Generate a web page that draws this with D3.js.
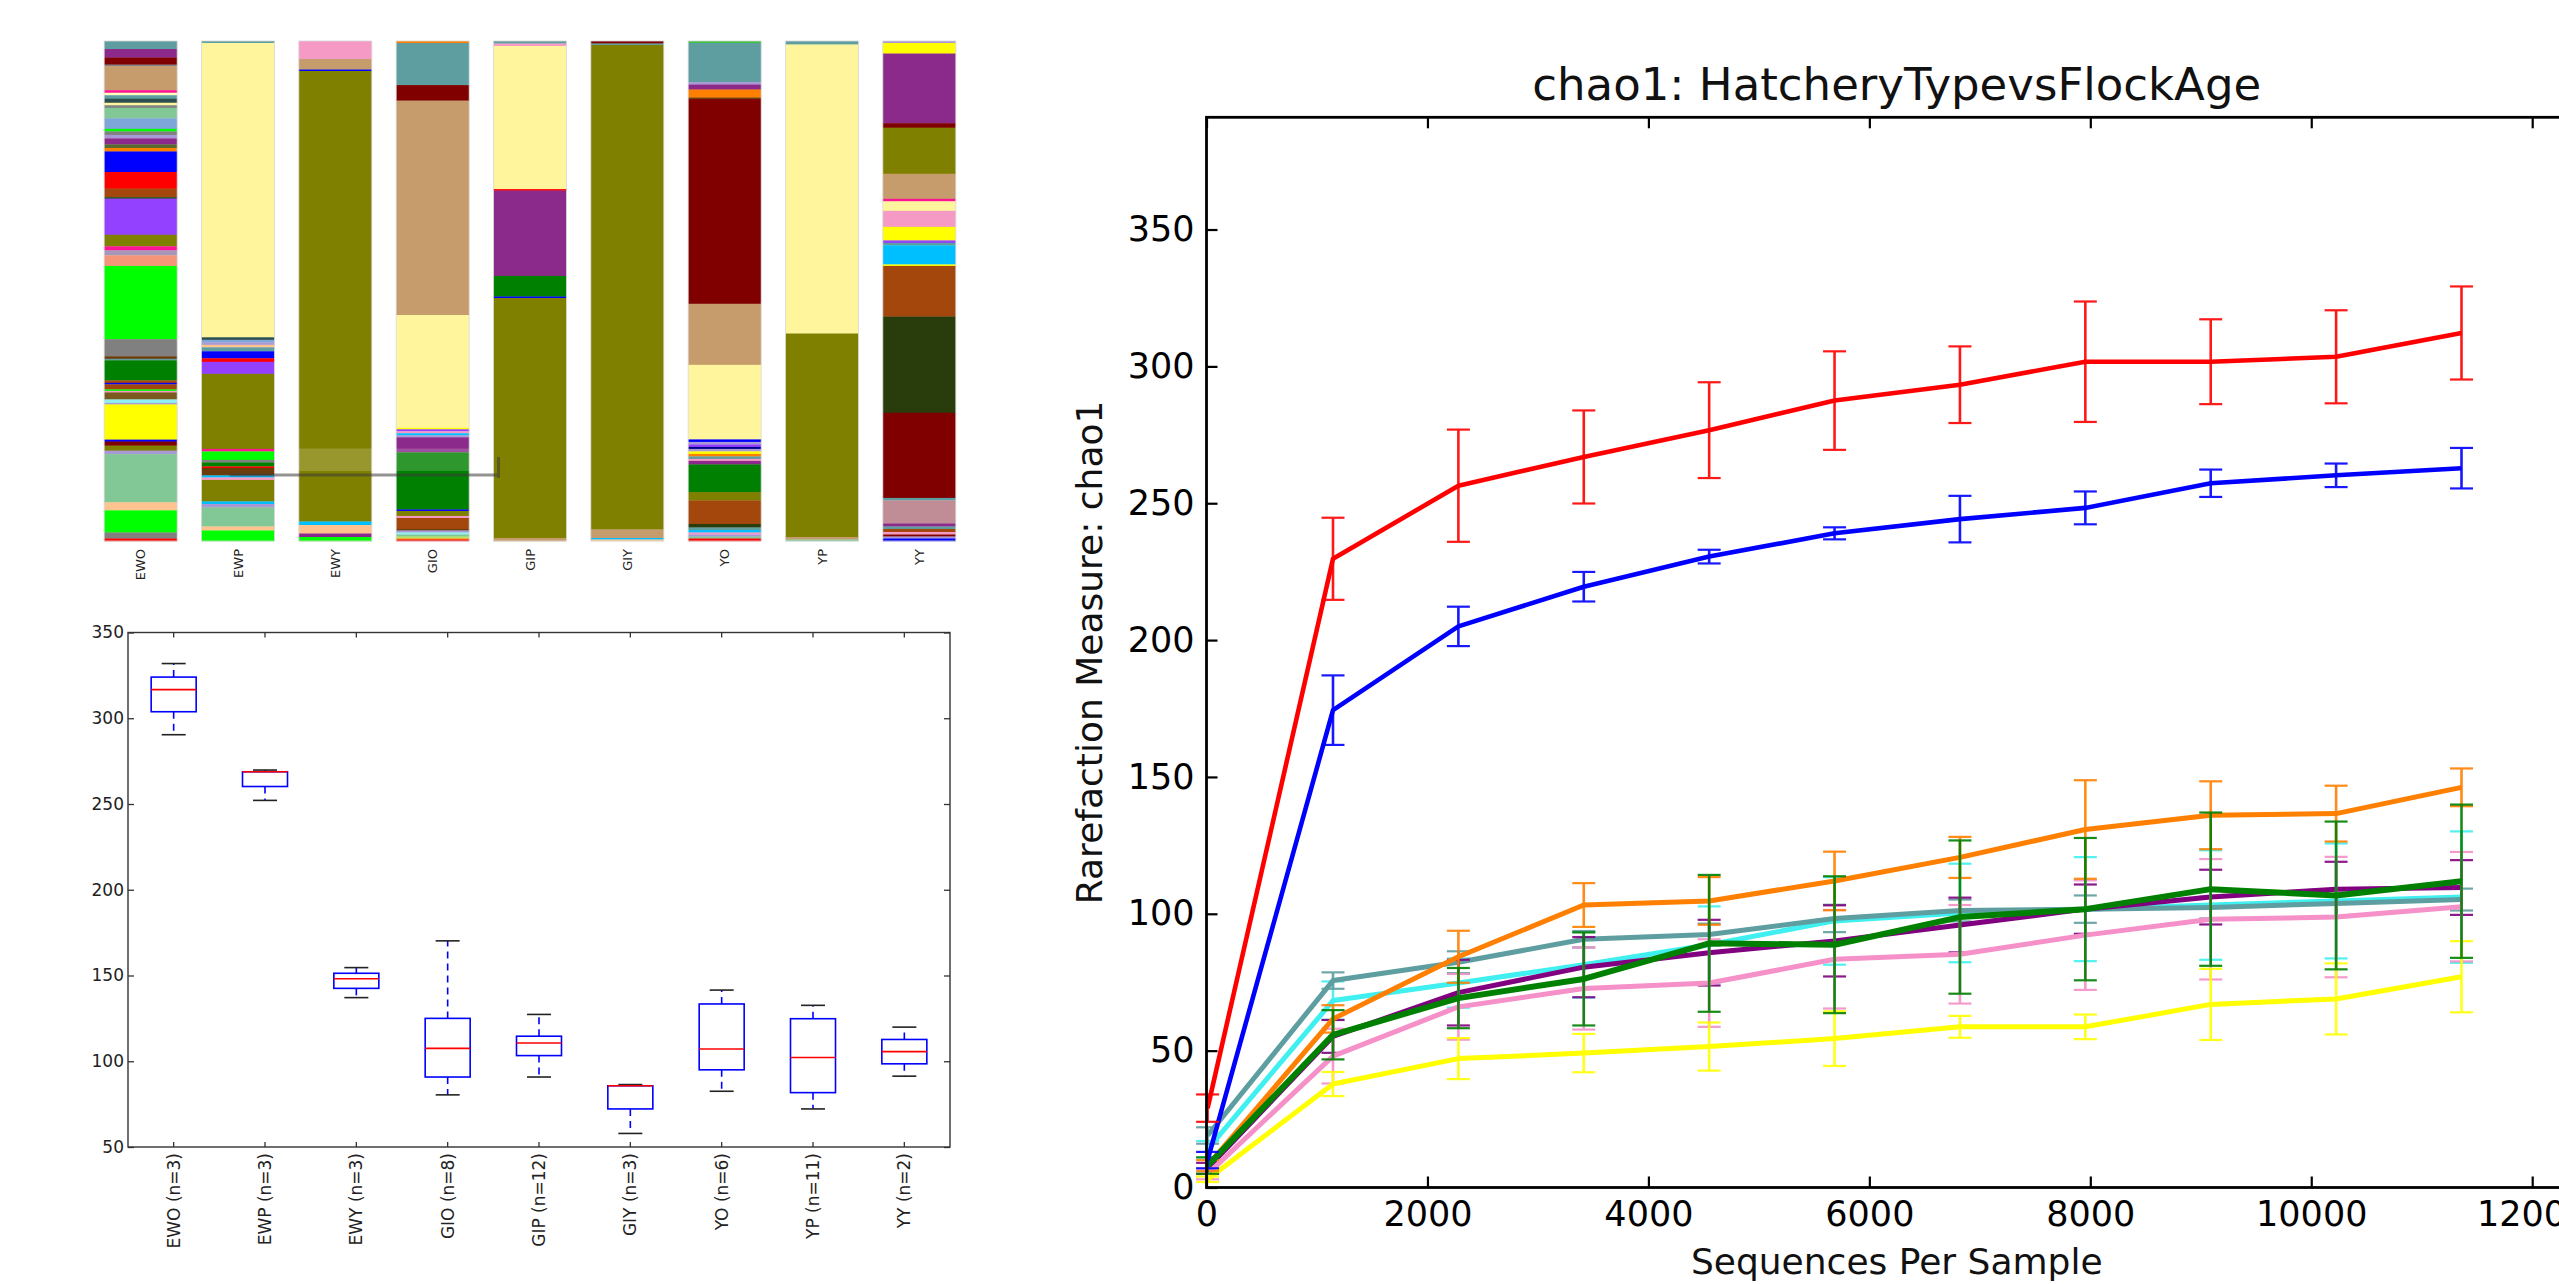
<!DOCTYPE html>
<html>
<head>
<meta charset="utf-8">
<script src="https://cdn.jsdelivr.net/npm/d3@7"></script>
<style>
  body { margin: 0; background: #fff; }
  svg { display: block; font-family: "DejaVu Sans", sans-serif; }
</style>
</head>
<body>
<svg id="vis" width="2559" height="1284"></svg>
<script>
// ---------- data: taxa summary (percent per segment, top to bottom)
var stackSamples = ["EWO", "EWP", "EWY", "GIO", "GIP", "GIY", "YO", "YP", "YY"];

var barEWO = [["teal",1.6],["purple",1.7],["maroon",1.4],["gray",0.3],["tan",4.8],["deeppink",0.5],["lightyellow",0.5],["teal",0.7],["darkslate",0.8],["cream",0.5],["gray",0.5],["seafoam",2.1],["lightblue",2.1],["lime",0.5],["gray",0.7],["lavender",0.7],["purple",1.2],["darkolive",0.7],["orange",0.7],["blue",4.1],["red",3.3],["brown",1.7],["darkgreen",0.3],["violet",7.2],["olive",2.3],["deeppink",0.8],["lavgray",1.0],["salmon",2.1],["lime",14.6],["gray",3.4],["darkbrown",0.5],["teal",0.3],["green",4.0],["brown",0.5],["blue",0.3],["brown",1.0],["lime",0.3],["pink",0.3],["olivebrown",1.4],["lightcyan",0.7],["lavender",0.3],["yellow",7.0],["blue",0.4],["maroon",0.8],["olive",1.0],["lavender",0.7],["seafoam",9.6],["peach",1.6],["lime",4.4],["gray",1.2],["red",0.5]];
var barEWP = [["teal",0.4],["cream",58.8],["darkslate",0.5],["lightblue",0.5],["lavender",0.5],["peach",0.5],["teal",0.8],["blue",1.4],["red",0.7],["violet",2.4],["olive",15.0],["deeppink",0.5],["lime",1.7],["gray",0.5],["green",0.8],["red",0.3],["darkbrown",1.5],["deepsky",0.4],["pink",0.5],["olive",4.3],["deepsky",0.5],["lavender",0.7],["seafoam",3.8],["peach",0.8],["lime",2.1]];
var barEWY = [["pink",3.6],["tan",2.1],["blue",0.3],["olive",90.0],["deepsky",0.7],["peach",1.7],["purple",0.7],["lime",0.8]];
var barGIO = [["orange",0.4],["teal",8.4],["maroon",3.1],["tan",42.8],["cream",22.5],["yellow",0.3],["violet",0.4],["pink",0.4],["deepsky",0.4],["lavender",0.4],["purple",3.0],["green",11.4],["blue",0.3],["olive",1.0],["pink",0.4],["brown",2.2],["darkbrown",0.3],["lavender",0.4],["lightcyan",0.4],["seafoam",0.4],["yellowgreen",0.4],["orange",0.2],["red",0.3]];
var barGIP = [["teal",0.5],["pink",0.5],["cream",28.5],["red",0.3],["purple",17.0],["green",4.1],["blue",0.3],["olive",47.8],["tan",0.6]];
var barGIY = [["maroon",0.5],["teal",0.3],["olive",96.7],["tan",1.7],["deepsky",0.3],["peach",0.3]];
var barYO = [["limegreen",0.4],["teal",7.8],["lavender",0.5],["purple",1.0],["orange",1.6],["darkbrown",0.3],["maroon",40.9],["tan",12.2],["cream",14.9],["blue",0.5],["lavender",0.5],["violet",0.5],["darkblue",0.4],["lavender",0.5],["yellow",0.5],["orange",0.5],["teal",0.5],["pink",0.4],["purple",0.7],["green",5.5],["olive",1.7],["brown",4.7],["darkolivegreen",0.7],["teal",0.5],["deepsky",0.5],["pink",0.4],["lavender",0.4],["seafoam",0.4],["red",0.5]];
var barYP = [["teal",0.7],["cream",57.8],["olive",40.7],["tan",0.5],["seafoam",0.3]];
var barYY = [["lavender",0.4],["yellow",2.1],["purple",13.9],["maroon",0.9],["olive",9.2],["tan",5.0],["deeppink",0.5],["cream",1.9],["pink",3.2],["yellow",2.7],["violet",0.5],["teal",0.5],["deepsky",3.8],["yellow",0.3],["brown",10.1],["darkolivegreen",19.2],["maroon",17.0],["teal",0.5],["rosybrown",4.6],["purple",0.6],["teal",0.5],["brown",0.6],["pink",0.5],["maroon",0.4],["lavender",0.4],["blue",0.5]];

// ---------- data: alpha diversity boxes
var boxGroups = ["EWO (n=3)", "EWP (n=3)", "EWY (n=3)", "GIO (n=8)", "GIP (n=12)", "GIY (n=3)", "YO (n=6)", "YP (n=11)", "YY (n=2)"];
var boxLow    = [290.4, 252.1, 137.1,  80.4,  90.8, 57.9,  82.5,  72.2,  91.3];
var boxQ1     = [303.8, 260.2, 142.5,  90.8, 103.3, 72.2,  95.0,  81.7,  98.5];
var boxMedian = [316.7, 268.8, 148.1, 107.5, 110.6, 85.7, 107.1, 102.2, 105.6];
var boxQ3     = [324.0, 268.8, 151.3, 125.0, 114.6, 85.7, 133.4, 124.8, 112.7];
var boxHigh   = [331.9, 269.8, 154.6, 170.2, 127.3, 86.4, 141.5, 132.6, 119.9];
var boxTicks  = [50, 100, 150, 200, 250, 300, 350];

// ---------- data: rarefaction chao1
var depths = [10, 1145, 2280, 3415, 4550, 5685, 6820, 7955, 9090, 10225, 11360];
var chaoEWO = [29, 229.7, 256.4, 266.9, 276.7, 287.5, 293.3, 301.7, 301.7, 303.5, 312.2];
var errEWO  = [5, 15, 20.5, 17, 17.5, 18, 14, 22, 15.5, 17, 17];
var chaoEWP = [10, 174.4, 205, 219.5, 230.5, 239, 244.2, 248.3, 257.3, 260.2, 262.8];
var errEWP  = [3, 12.7, 7.2, 5.4, 2.5, 2.2, 8.5, 6, 5, 4.3, 7.4];
var chaoEWY = [8, 61.6, 84.3, 103.2, 104.7, 112, 120.6, 130.8, 136, 136.6, 146.2];
var errEWY  = [2, 5, 9.5, 8, 8.7, 10.7, 7.5, 18, 12.4, 10.2, 6.9];
var chaoGIO = [8, 55.8, 69.2, 76.2, 89.2, 88.7, 98.8, 101.7, 109, 106.7, 111.9];
var errGIO  = [3, 9, 11, 17, 25, 25, 28, 26, 28, 27, 28];
var chaoGIP = [7, 55.2, 71.2, 80.5, 85.8, 90.1, 95.9, 101.7, 106.1, 109, 109.6];
var errGIP  = [2, 6, 12, 11, 12, 13, 10, 9, 10, 10, 10];
var chaoGIY = [3, 37.8, 47.1, 49.1, 51.5, 54.4, 58.7, 58.7, 66.9, 68.9, 77];
var errGIY  = [1, 4.4, 7.5, 7, 8.8, 10, 4, 4.5, 13, 13, 13];
var chaoYO  = [14, 68.3, 74.7, 81.4, 88.7, 97.4, 100.3, 101.7, 103.2, 104.7, 106.1];
var errYO   = [3, 7, 9, 12, 14, 16, 18, 19, 20, 21, 24];
var chaoYP  = [5, 48, 66, 72.7, 74.7, 83.4, 85.2, 92.2, 98, 98.8, 102.6];
var errYP   = [2, 10, 12, 15, 16, 18, 18, 20, 22, 22, 20];
var chaoYY  = [19, 75.6, 82.3, 90.7, 92.4, 98.3, 101.2, 101.7, 102.3, 103.8, 105.2];
var errYY   = [3, 3, 4, 3, 4, 5, 4, 5, 4, 5, 4];
var rareXTicks = [0, 2000, 4000, 6000, 8000, 10000, 12000];
var rareYTicks = [0, 50, 100, 150, 200, 250, 300, 350];

// colours
var taxonColors = {
  teal: "#5f9ea0", purple: "#8b2a8b", maroon: "#800000", gray: "#808080", tan: "#c69c6d",
  deeppink: "#ff1493", lightyellow: "#ffffc0", darkslate: "#2f4f4f", cream: "#fff59d",
  seafoam: "#82c896", lightblue: "#7ea6d9", lime: "#00ff00", lavender: "#a899d6",
  darkolive: "#556b2f", orange: "#ff7f00", blue: "#0000ff", red: "#ff0000", brown: "#a3470d",
  darkgreen: "#1e4d1e", violet: "#9441ff", olive: "#808000", lavgray: "#a797b8",
  salmon: "#f49479", darkbrown: "#6b3c0c", green: "#008000", pink: "#f49ac4",
  olivebrown: "#7a5a1e", lightcyan: "#8ef0f0", yellow: "#ffff00", peach: "#ffc38f",
  deepsky: "#00bfff", rosybrown: "#c08c96", darkolivegreen: "#283c0c", yellowgreen: "#b8e060",
  limegreen: "#40c040", darkblue: "#00008b"
};

var svg = d3.select("#vis");

// ================= taxa summary bars =================
var barSegments = { EWO: barEWO, EWP: barEWP, EWY: barEWY, GIO: barGIO, GIP: barGIP,
                    GIY: barGIY, YO: barYO, YP: barYP, YY: barYY };

var xb = d3.scaleBand().domain(stackSamples).range([92, 968])
    .paddingInner(0.25).paddingOuter(0.125);
var yb = d3.scaleLinear().domain([0, 100]).range([41, 541]);

var bars = svg.append("g");
stackSamples.forEach(function(s) {
  var segs = barSegments[s];
  var total = d3.sum(segs, function(d) { return d[1]; });
  var ends = d3.cumsum(segs, function(d) { return d[1] / total * 100; });
  bars.selectAll(null)
    .data(segs)
    .enter()
    .append("rect")
      .attr("x", xb(s))
      .attr("width", xb.bandwidth())
      .attr("y", function(d, i) { return yb(ends[i] - d[1] / total * 100); })
      .attr("height", function(d) { return yb(d[1] / total * 100) - yb(0) + 0.3; })
      .attr("fill", function(d) { return taxonColors[d[0]]; });
});

// faint outline round each bar
bars.selectAll("outline")
  .data(stackSamples)
  .enter()
  .append("rect")
    .attr("x", function(d) { return xb(d); })
    .attr("y", yb(0))
    .attr("width", xb.bandwidth())
    .attr("height", yb(100) - yb(0))
    .attr("fill", "none")
    .attr("stroke", "#d8d8d8")
    .attr("stroke-width", 0.8);

// leftover hover line from the original screenshot
svg.append("rect")
  .attr("x", xb("EWY") - 20).attr("y", yb(81.5))
  .attr("width", xb("GIP") - xb("EWY") + 10).attr("height", yb(86) - yb(81.5))
  .attr("fill", "#ffffff").attr("opacity", 0.18);
svg.append("path")
  .attr("d", "M" + (xb("EWP") + 28) + "," + yb(86.8) + "H" + (xb("GIP") + 5) +
             "M" + (xb("GIP") + 5) + "," + yb(83.2) + "V" + yb(87.4))
  .attr("fill", "none")
  .attr("stroke", "#3a3a3a")
  .attr("stroke-opacity", 0.55)
  .attr("stroke-width", 3);

svg.append("g").selectAll("text")
  .data(stackSamples)
  .enter()
  .append("text")
    .attr("transform", function(d) {
      return "translate(" + (xb(d) + xb.bandwidth() / 2) + "," + 549 + ") rotate(-90)";
    })
    .attr("dy", "0.35em")
    .attr("text-anchor", "end")
    .style("font-size", "13px")
    .attr("fill", "#222")
    .text(function(d) { return d; });

// ================= box plot =================
var bx = d3.scaleBand().domain(boxGroups).range([128, 950]);
var by = d3.scaleLinear().domain([50, 350]).range([1147, 632.5]);
var bc = function(g) { return bx(g) + bx.bandwidth() / 2; };

var boxG = svg.append("g");
boxG.append("g")
  .attr("transform", "translate(" + 128 + ",0)")
  .call(d3.axisLeft(by).tickValues(boxTicks).tickSizeInner(-6).tickSizeOuter(0).tickPadding(4))
  .call(function(g) { g.select(".domain").remove(); });
boxG.append("g")
  .attr("transform", "translate(" + 950 + ",0)")
  .call(d3.axisRight(by).tickValues(boxTicks).tickSizeInner(-6).tickSizeOuter(0).tickFormat(""))
  .call(function(g) { g.select(".domain").remove(); });
boxG.append("g")
  .attr("transform", "translate(0," + 632.5 + ")")
  .call(d3.axisTop(bx).tickSizeInner(-5).tickSizeOuter(0).tickFormat(""))
  .call(function(g) { g.select(".domain").remove(); });
boxG.append("g")
  .attr("transform", "translate(0," + 1147 + ")")
  .call(d3.axisBottom(bx).tickSizeInner(-5).tickSizeOuter(0).tickFormat(""))
  .call(function(g) { g.select(".domain").remove(); });
boxG.selectAll(".tick line").attr("stroke", "#333").attr("stroke-width", 1.3);
boxG.selectAll(".tick text").style("font-size", "17px").attr("fill", "#222")
  .style("font-family", "DejaVu Sans, sans-serif");

boxG.append("rect")
  .attr("x", 128).attr("y", 632.5).attr("width", 950 - 128).attr("height", 1147 - 632.5)
  .attr("fill", "none").attr("stroke", "#333").attr("stroke-width", 1.4);

boxG.selectAll("xlab")
  .data(boxGroups)
  .enter()
  .append("text")
    .attr("transform", function(d) { return "translate(" + bc(d) + "," + 1153 + ") rotate(-90)"; })
    .attr("dy", "0.35em")
    .attr("text-anchor", "end")
    .style("font-size", "17px")
    .attr("fill", "#222")
    .text(function(d) { return d; });

var boxHalf = 22.5, capHalf = 12;
var boxes = boxG.selectAll("boxes")
  .data(boxGroups)
  .enter()
  .append("g");
// whiskers
boxes.append("line")
  .attr("x1", bc).attr("x2", bc)
  .attr("y1", function(d, i) { return by(boxQ3[i]); })
  .attr("y2", function(d, i) { return by(boxHigh[i]); })
  .attr("stroke", "#0000ff").attr("stroke-width", 1.6).attr("stroke-dasharray", "7,5");
boxes.append("line")
  .attr("x1", bc).attr("x2", bc)
  .attr("y1", function(d, i) { return by(boxQ1[i]); })
  .attr("y2", function(d, i) { return by(boxLow[i]); })
  .attr("stroke", "#0000ff").attr("stroke-width", 1.6).attr("stroke-dasharray", "7,5");
// caps
boxes.append("line")
  .attr("x1", function(d) { return bc(d) - capHalf; })
  .attr("x2", function(d) { return bc(d) + capHalf; })
  .attr("y1", function(d, i) { return by(boxHigh[i]); })
  .attr("y2", function(d, i) { return by(boxHigh[i]); })
  .attr("stroke", "#222").attr("stroke-width", 1.6);
boxes.append("line")
  .attr("x1", function(d) { return bc(d) - capHalf; })
  .attr("x2", function(d) { return bc(d) + capHalf; })
  .attr("y1", function(d, i) { return by(boxLow[i]); })
  .attr("y2", function(d, i) { return by(boxLow[i]); })
  .attr("stroke", "#222").attr("stroke-width", 1.6);
// boxes
boxes.append("rect")
  .attr("x", function(d) { return bc(d) - boxHalf; })
  .attr("width", boxHalf * 2)
  .attr("y", function(d, i) { return by(boxQ3[i]); })
  .attr("height", function(d, i) { return by(boxQ1[i]) - by(boxQ3[i]); })
  .attr("fill", "none").attr("stroke", "#0000ff").attr("stroke-width", 1.6);
// medians
boxes.append("line")
  .attr("x1", function(d) { return bc(d) - boxHalf; })
  .attr("x2", function(d) { return bc(d) + boxHalf; })
  .attr("y1", function(d, i) { return by(boxMedian[i]); })
  .attr("y2", function(d, i) { return by(boxMedian[i]); })
  .attr("stroke", "#ff0000").attr("stroke-width", 1.6);

// ================= rarefaction plot =================
var rareSeries = [
  { name: "YO",  color: "#40f0f0", width: 5,   values: chaoYO,  err: errYO },
  { name: "YY",  color: "#5f9ea0", width: 5,   values: chaoYY,  err: errYY },
  { name: "GIP", color: "#800080", width: 5,   values: chaoGIP, err: errGIP },
  { name: "YP",  color: "#f590c8", width: 5,   values: chaoYP,  err: errYP },
  { name: "GIY", color: "#ffff00", width: 5,   values: chaoGIY, err: errGIY },
  { name: "EWY", color: "#ff7f00", width: 5,   values: chaoEWY, err: errEWY },
  { name: "GIO", color: "#008000", width: 6,   values: chaoGIO, err: errGIO },
  { name: "EWP", color: "#0000ff", width: 4.6, values: chaoEWP, err: errEWP },
  { name: "EWO", color: "#ff0000", width: 4.6, values: chaoEWO, err: errEWO }
];

var rx = d3.scaleLinear().domain([0, 12496]).range([1206.5, 2587]);
var ry = d3.scaleLinear().domain([0, 391]).range([1187.5, 117.3]);

var rare = svg.append("g");

var line = d3.line()
  .x(function(d, i) { return rx(depths[i]); })
  .y(function(d) { return ry(d); });

rareSeries.forEach(function(s) {
  var g = rare.append("g").attr("stroke", s.color);
  var bars = g.selectAll("eb")
    .data(s.values)
    .enter()
    .append("g")
      .attr("opacity", 0.9);
  bars.append("line")
    .attr("x1", function(d, i) { return rx(depths[i]); })
    .attr("x2", function(d, i) { return rx(depths[i]); })
    .attr("y1", function(d, i) { return ry(d - s.err[i]); })
    .attr("y2", function(d, i) { return ry(d + s.err[i]); })
    .attr("stroke-width", 2.6);
  [-1, 1].forEach(function(sign) {
    bars.append("line")
      .attr("x1", function(d, i) { return rx(depths[i]) - 11.5; })
      .attr("x2", function(d, i) { return rx(depths[i]) + 11.5; })
      .attr("y1", function(d, i) { return ry(d + sign * s.err[i]); })
      .attr("y2", function(d, i) { return ry(d + sign * s.err[i]); })
      .attr("stroke-width", 2.2);
  });
  g.append("path")
    .attr("d", line(s.values))
    .attr("fill", "none")
    .attr("stroke-width", s.width)
    .attr("stroke-linejoin", "round");
});

var axes = svg.append("g");
axes.append("g")
  .attr("transform", "translate(0," + ry(0) + ")")
  .call(d3.axisBottom(rx).tickValues(rareXTicks).tickFormat(d3.format("d"))
        .tickSizeInner(-11).tickSizeOuter(0).tickPadding(14));
axes.append("g")
  .attr("transform", "translate(0," + ry(391) + ")")
  .call(d3.axisTop(rx).tickValues(rareXTicks).tickFormat("").tickSizeInner(-11).tickSizeOuter(0));
axes.append("g")
  .attr("transform", "translate(" + rx(0) + ",0)")
  .call(d3.axisLeft(ry).tickValues(rareYTicks).tickSizeInner(-11).tickSizeOuter(0).tickPadding(12));
axes.append("g")
  .attr("transform", "translate(" + rx(12496) + ",0)")
  .call(d3.axisRight(ry).tickValues(rareYTicks).tickFormat("").tickSizeInner(-11).tickSizeOuter(0));
axes.selectAll(".domain").remove();
axes.selectAll(".tick line").attr("stroke", "#000").attr("stroke-width", 2.2);
axes.selectAll(".tick text").style("font-size", "35px").attr("fill", "#000")
  .style("font-family", "DejaVu Sans, sans-serif");

axes.append("rect")
  .attr("x", rx(0)).attr("y", ry(391))
  .attr("width", rx(12496) - rx(0)).attr("height", ry(0) - ry(391))
  .attr("fill", "none").attr("stroke", "#000").attr("stroke-width", 2.8);

var midX = (rx(0) + rx(12496)) / 2;
svg.append("text")
  .attr("x", midX).attr("y", 100)
  .attr("text-anchor", "middle")
  .style("font-size", "45px")
  .attr("fill", "#111")
  .text("chao1: HatcheryTypevsFlockAge");

svg.append("text")
  .attr("x", midX).attr("y", 1274)
  .attr("text-anchor", "middle")
  .style("font-size", "36px")
  .attr("fill", "#111")
  .text("Sequences Per Sample");

svg.append("text")
  .attr("transform", "translate(" + 1102 + "," + ((ry(0) + ry(391)) / 2) + ") rotate(-90)")
  .attr("text-anchor", "middle")
  .style("font-size", "36px")
  .attr("fill", "#111")
  .text("Rarefaction Measure: chao1");
</script>
</body>
</html>
